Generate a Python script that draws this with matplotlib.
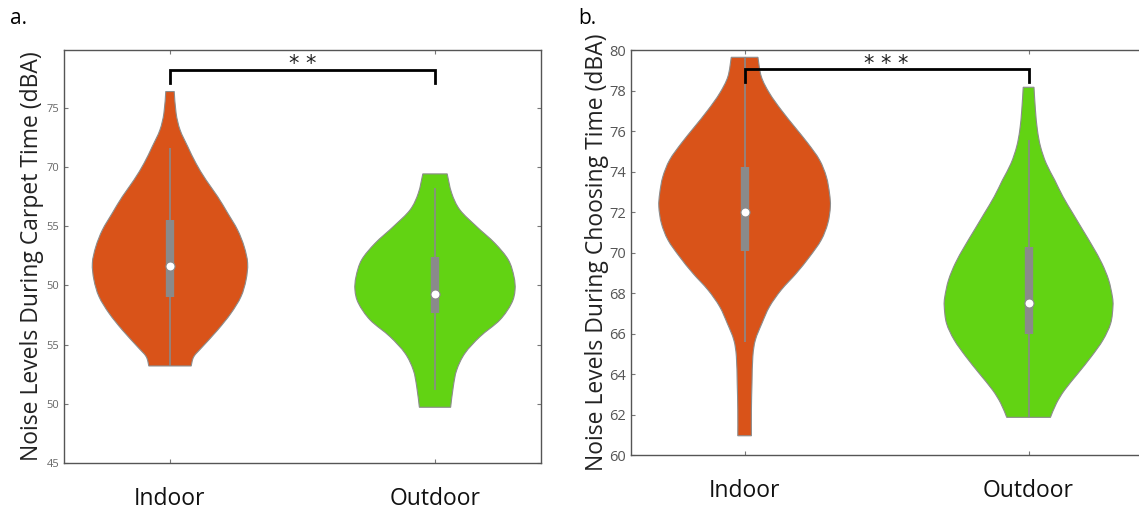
import matplotlib
matplotlib.use("Agg")
import matplotlib.pyplot as plt
from matplotlib.path import Path
from matplotlib.patches import PathPatch
import numpy as np

plt.rcParams['font.family'] = ['Open Sans', 'DejaVu Sans']

# ---------------- data ----------------
groups = ["Indoor", "Outdoor"]

# Panel a: violin outlines (value, half-width)
a_in_y = [76.39, 74.56, 73.15, 71.74, 70.33, 68.92, 67.51, 66.11, 64.70, 63.28, 61.88,
          60.47, 59.06, 57.65, 56.24, 54.83, 53.99, 53.20]
a_in_w = [0.016, 0.023, 0.038, 0.067, 0.098, 0.136, 0.180, 0.218, 0.255, 0.280, 0.293,
          0.287, 0.268, 0.230, 0.180, 0.123, 0.090, 0.080]
a_out_y = [69.43, 67.80, 66.39, 64.98, 63.57, 62.16, 60.75, 59.62, 58.50, 57.09, 55.68,
           54.27, 52.86, 51.45, 49.71]
a_out_w = [0.046, 0.063, 0.094, 0.157, 0.226, 0.277, 0.298, 0.302, 0.289, 0.245, 0.170,
           0.113, 0.082, 0.069, 0.059]
# box stats: whisker low, q1, median, q3, whisker high
a_in_box = [53.2, 59.0, 61.65, 65.54, 71.6]
a_out_box = [51.2, 57.65, 59.26, 62.39, 68.2]
a_ticks = [45, 50, 55, 60, 65, 70, 75]
a_ticklabels = ["45", "50", "55", "50", "55", "70", "75"]

# Panel b
b_in_y = [79.64, 78.68, 77.86, 77.04, 76.21, 75.39, 74.57, 73.74, 72.92, 72.26, 71.44,
          70.62, 69.79, 68.97, 68.15, 67.33, 66.50, 65.68, 64.86, 63.54, 62.22, 60.95]
b_in_w = [0.047, 0.059, 0.088, 0.129, 0.176, 0.223, 0.264, 0.288, 0.299, 0.302, 0.293,
          0.270, 0.229, 0.182, 0.129, 0.088, 0.061, 0.038, 0.029, 0.026, 0.024, 0.024]
b_out_y = [78.16, 77.04, 76.05, 75.23, 74.40, 73.58, 72.76, 71.93, 71.11, 70.29, 69.47,
           68.64, 67.82, 67.33, 66.50, 65.68, 64.86, 64.03, 63.21, 62.55, 61.86]
b_out_w = [0.019, 0.024, 0.031, 0.042, 0.062, 0.092, 0.121, 0.156, 0.191, 0.226, 0.258,
           0.282, 0.295, 0.297, 0.289, 0.262, 0.221, 0.174, 0.127, 0.098, 0.077]
b_in_box = [65.56, 70.07, 71.98, 74.24, 79.64]
b_out_box = [61.86, 65.96, 67.49, 70.25, 75.56]
b_ticks = list(range(60, 81, 2))

c_orange = "#D95319"
c_green = "#62D313"
c_box = "#8A8A8A"


def smooth_side(pts):
    """Bezier (CURVE4) vertices through pts, Catmull-Rom tangents (rendering only)."""
    verts, codes = [], []
    n = len(pts)
    for i in range(n - 1):
        p0 = pts[max(i - 1, 0)]
        p1 = pts[i]
        p2 = pts[i + 1]
        p3 = pts[min(i + 2, n - 1)]
        c1 = p1 + (p2 - p0) / 6.0
        c2 = p2 - (p3 - p1) / 6.0
        verts += [c1, c2, p2]
        codes += [Path.CURVE4] * 3
    return verts, codes


def violin(ax, pos, ys, ws, color, box):
    ys = np.asarray(ys, float)
    ws = np.asarray(ws, float)
    right = np.column_stack([pos + ws, ys])
    left = np.column_stack([pos - ws, ys])[::-1]
    verts = [right[0]]
    codes = [Path.MOVETO]
    v, c = smooth_side(right)
    verts += v
    codes += c
    verts.append(left[0])
    codes.append(Path.LINETO)
    v, c = smooth_side(left)
    verts += v
    codes += c
    verts.append(right[0])
    codes.append(Path.CLOSEPOLY)
    patch = PathPatch(Path(np.array(verts), codes), facecolor=color,
                      edgecolor="#8c8c8c", linewidth=0.8, zorder=2)
    ax.add_patch(patch)
    lo, q1, med, q3, hi = box
    ax.plot([pos, pos], [lo, hi], color=c_box, lw=1.2, zorder=3, solid_capstyle="butt")
    ax.plot([pos, pos], [q1, q3], color=c_box, lw=6, zorder=4, solid_capstyle="butt")
    ax.plot([pos], [med], marker="o", ms=6.5, mfc="white", mec=c_box, mew=0.8, zorder=5)


def style(ax, xmax):
    for s in ax.spines.values():
        s.set_color("#555555")
        s.set_linewidth(1.0)
    ax.tick_params(direction="in", length=3, width=0.8, color="#777777",
                   top=True, right=True)
    ax.set_xticks([1, 2])
    ax.set_xticklabels(groups, fontsize=16.5, color="#111111")
    ax.tick_params(axis="x", pad=17)
    ax.set_xlim(0.6, xmax)


def bracket(ax, y_line, y_end, y_text, text):
    ax.plot([1, 1, 2, 2], [y_end, y_line, y_line, y_end], color="black", lw=2,
            zorder=6, solid_joinstyle="miter")
    ax.text(1.5, y_text, text, ha="center", va="center", fontsize=15,
            color="#222222", family="DejaVu Sans")


fig = plt.figure(figsize=(11.39, 5.11), dpi=100)
W, H = 1139, 511

ax1 = fig.add_axes([64 / W, 1 - 463 / H, 477 / W, 413 / H])
violin(ax1, 1, a_in_y, a_in_w, c_orange, a_in_box)
violin(ax1, 2, a_out_y, a_out_w, c_green, a_out_box)
style(ax1, 2.4)
ax1.set_ylim(45, 79.9)
ax1.set_yticks(a_ticks)
ax1.set_yticklabels(a_ticklabels, fontsize=8, color="#666666")
ax1.set_ylabel("Noise Levels During Carpet Time (dBA)", fontsize=16.5, color="#222222",
               labelpad=2)
bracket(ax1, 78.2, 77.1, 78.75, "* *")

ax2 = fig.add_axes([631 / W, 1 - 455 / H, 516 / W, 405 / H])
violin(ax2, 1, b_in_y, b_in_w, c_orange, b_in_box)
violin(ax2, 2, b_out_y, b_out_w, c_green, b_out_box)
style(ax2, 0.6 + 516 / 284)
ax2.set_ylim(60, 80)
ax2.set_yticks(b_ticks)
ax2.set_yticklabels([str(t) for t in b_ticks], fontsize=10.5, color="#555555")
ax2.set_ylabel("Noise Levels During Choosing Time (dBA)", fontsize=16.5, color="#222222",
               labelpad=0)
bracket(ax2, 79.06, 78.42, 79.3, "* * *")

fig.text(10 / W, 1 - 18 / H, "a.", fontsize=15, va="center", ha="left")
fig.text(578 / W, 1 - 18 / H, "b.", fontsize=15, va="center", ha="left")

fig.savefig("out.png", dpi=100)
